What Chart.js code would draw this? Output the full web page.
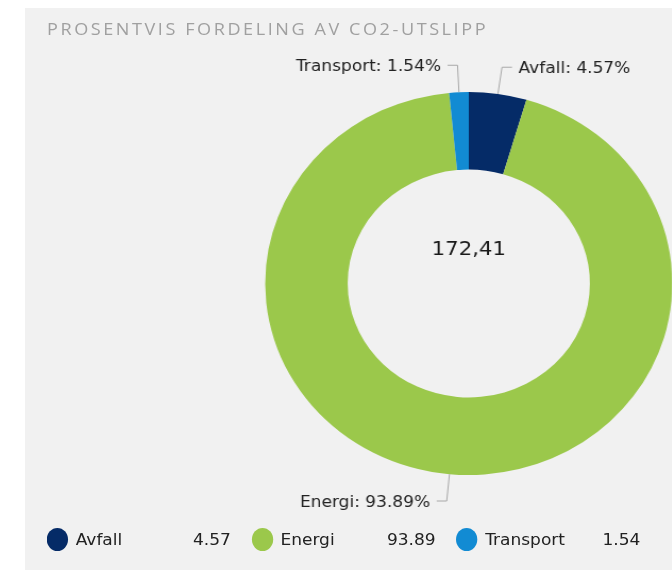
<!DOCTYPE html>
<html>
<head>
<meta charset="utf-8">
<script src="https://cdn.jsdelivr.net/npm/chart.js@4/dist/chart.umd.min.js"></script>
<style>
html,body{margin:0;padding:0;background:#fff;width:672px;height:579px;overflow:hidden;}
#panel{position:absolute;left:25px;top:8px;width:647px;height:562px;background:#f1f1f1;}
#stage{position:absolute;left:0;top:0;width:632px;height:579px;transform:scaleX(1.063);transform-origin:0 0;}
#clip{position:absolute;left:23.5px;top:8px;width:608.7px;height:562px;overflow:hidden;}
#clip canvas{position:absolute;left:0;top:0;}
#title{position:absolute;left:44.2px;top:20px;font-family:'Open Sans';font-size:17px;line-height:17px;color:#a0a0a0;white-space:nowrap;}
.leg{position:absolute;top:528px;height:24px;display:flex;align-items:center;font-family:'DejaVu Sans';font-size:16px;color:#222;white-space:nowrap;}
.leg .mk{position:absolute;top:0;width:20px;height:23px;border-radius:50%;}
.leg .nm{position:absolute;top:0;height:24px;line-height:24px;}
.leg .vl{position:absolute;top:0;height:24px;line-height:24px;text-align:right;}
</style>
</head>
<body>
<div id="panel"></div>
<div id="stage">
  <div id="title"></div>
  <div id="clip"><canvas id="c" width="834" height="551"></canvas></div>
  <div id="legend"></div>
</div>
<script>
const titleText = 'PROSENTVIS FORDELING AV CO2-UTSLIPP';
const categories = ['Avfall', 'Energi', 'Transport'];
const values = [4.57, 93.89, 1.54];
const colors = ['#052b67', '#9bc84b', '#128bd3'];
const centerLabel = '172,41';

// title, letter-spaced to fit its width
const t = document.getElementById('title');
t.textContent = titleText;
const w0 = t.getBoundingClientRect().width / 1.063;
t.style.letterSpacing = ((415 - w0) / titleText.length) + 'px';

// legend
const lg = document.getElementById('legend');
categories.forEach((name, i) => {
  const item = document.createElement('div');
  item.className = 'leg';
  item.style.left = (44.2 + i * 192.6) + 'px';
  item.innerHTML = '<div class="mk" style="left:0;background:' + colors[i] + '"></div>' +
    '<div class="nm" style="left:27px">' + name + '</div>' +
    '<div class="vl" style="left:100px;width:73px">' + values[i].toFixed(2) + '</div>';
  lg.appendChild(item);
});

const calloutPlugin = {
  id: 'callouts',
  afterDatasetsDraw(chart) {
    const ctx = chart.ctx;
    const meta = chart.getDatasetMeta(0);
    ctx.save();
    meta.data.forEach((arc, i) => {
      const p = arc.getProps(['x', 'y', 'startAngle', 'endAngle', 'outerRadius'], true);
      const a = (p.startAngle + p.endAngle) / 2;
      const R = p.outerRadius;
      const ax = p.x + Math.cos(a) * R, ay = p.y + Math.sin(a) * R;
      const ex = p.x + Math.cos(a) * (R + 27), ey = p.y + Math.sin(a) * (R + 27);
      const dir = Math.cos(a) >= 0 ? 1 : -1;
      const hx = ex + dir * 9.4;
      ctx.strokeStyle = '#a8a8a8';
      ctx.lineWidth = 1;
      ctx.beginPath();
      ctx.moveTo(ax, ay);
      ctx.lineTo(ex, ey);
      ctx.lineTo(hx, ey);
      ctx.stroke();
      ctx.fillStyle = '#222';
      ctx.font = "16px 'DejaVu Sans'";
      ctx.textAlign = dir > 0 ? 'left' : 'right';
      ctx.textBaseline = 'middle';
      ctx.fillText(categories[i] + ': ' + values[i].toFixed(2) + '%', hx + dir * 6.2, ey + 1.5);
    });
    const c = meta.data[0];
    ctx.font = "20px 'DejaVu Sans'";
    ctx.textAlign = 'center';
    ctx.textBaseline = 'middle';
    ctx.fillStyle = '#1a1a1a';
    ctx.fillText(centerLabel, c.x, c.y - 33.5);
    ctx.restore();
  }
};

new Chart(document.getElementById('c'), {
  type: 'doughnut',
  data: {
    labels: categories,
    datasets: [{
      data: values,
      backgroundColor: colors,
      borderWidth: 0,
      hoverOffset: 0,
      radius: 191.5,
      cutout: '59.5%'
    }]
  },
  options: {
    responsive: false,
    devicePixelRatio: 1,
    animation: false,
    events: [],
    layout: { padding: 0 },
    plugins: { legend: { display: false }, tooltip: { enabled: false } }
  },
  plugins: [calloutPlugin]
});
</script>
</body>
</html>
